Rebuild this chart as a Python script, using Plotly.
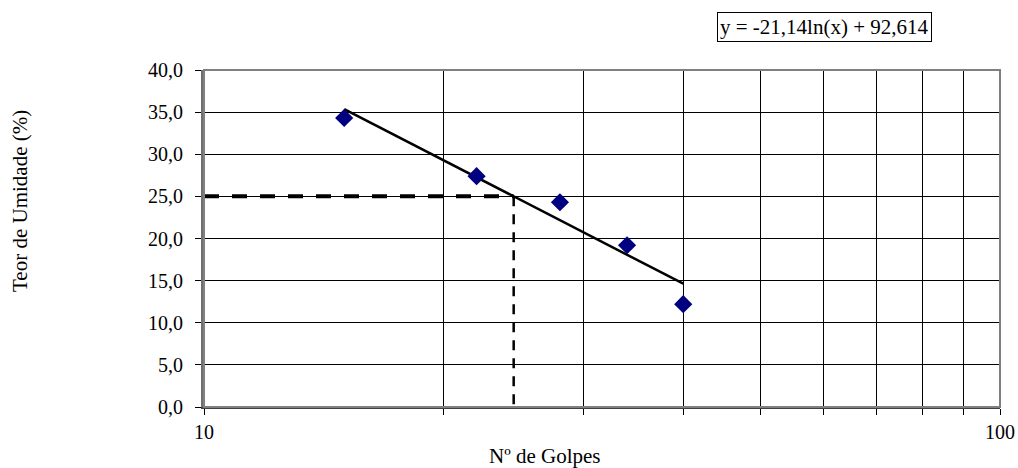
import numpy as np
import plotly.graph_objects as go

# Data
golpes = [15, 22, 28, 34, 40]
umidade = [34.3, 27.4, 24.3, 19.2, 12.2]

# Logarithmic trendline coefficients shown on the chart
coef_a = -21.14
coef_b = 92.614
limite_umidade = 25.0

y_tick_vals = [0, 5, 10, 15, 20, 25, 30, 35, 40]
y_tick_text = ["0,0", "5,0", "10,0", "15,0", "20,0", "25,0", "30,0", "35,0", "40,0"]
x_tick_vals = [10, 20, 30, 40, 50, 60, 70, 80, 90, 100]
x_tick_text = ["10", "", "", "", "", "", "", "", "", "100"]

font_family = "Liberation Serif"

W, H = 1018, 468
L, R, T, B = 204, 18, 70, 61
PW, PH = W - L - R, H - T - B

def px_x(x):
    return (x - L) / PW

def px_y(y):
    return (H - B - y) / PH

# trendline over the data range
xt = np.geomspace(min(golpes), max(golpes), 30)
yt = coef_a * np.log(xt) + coef_b

# golpes at 25% moisture
x25 = float(np.exp((coef_b - limite_umidade) / (-coef_a)))

fig = go.Figure()

fig.add_trace(go.Scatter(x=[10, x25], y=[limite_umidade, limite_umidade], mode="lines",
                         line=dict(color="black", width=4, dash="15px,13px"),
                         showlegend=False, hoverinfo="skip"))
fig.add_trace(go.Scatter(x=[x25, x25], y=[limite_umidade, 0], mode="lines",
                         line=dict(color="black", width=2.5, dash="10px,8px"),
                         showlegend=False, hoverinfo="skip"))
fig.add_trace(go.Scatter(x=xt, y=yt, mode="lines",
                         line=dict(color="black", width=2.5),
                         showlegend=False))
fig.add_trace(go.Scatter(x=golpes, y=umidade, mode="markers",
                         marker=dict(symbol="diamond", size=14, color="#000080"),
                         showlegend=False))

fig.update_layout(
    width=W, height=H,
    margin=dict(l=L, r=R, t=T, b=B),
    paper_bgcolor="white", plot_bgcolor="white",
    font=dict(family=font_family, size=20, color="black"),
    xaxis=dict(type="log", range=[1, 2], tickvals=x_tick_vals, ticktext=x_tick_text,
               showgrid=True, gridcolor="black", gridwidth=1,
               ticks="outside", ticklen=6, tickcolor="black", tickwidth=1,
               showline=True, linecolor="#404040", linewidth=2, mirror=False,
               zeroline=False, tickfont=dict(family=font_family, size=20),
               automargin=False),
    yaxis=dict(range=[0, 40], tickvals=y_tick_vals, ticktext=y_tick_text,
               showgrid=True, gridcolor="black", gridwidth=1,
               ticks="outside", ticklen=6, tickcolor="black", tickwidth=1,
               showline=True, linecolor="#707070", linewidth=3, mirror=False,
               zeroline=False, tickfont=dict(family=font_family, size=20),
               ticklabelstandoff=8, automargin=False),
    shapes=[dict(type="rect", xref="paper", yref="paper", x0=0, x1=1, y0=0, y1=1,
                 line=dict(color="#808080", width=2), layer="above")],
    annotations=[
        dict(text="y = -21,14ln(x) + 92,614", xref="paper", yref="paper",
             x=px_x(824), y=px_y(27),
             xanchor="center", yanchor="middle", showarrow=False,
             font=dict(family=font_family, size=21), bordercolor="black",
             borderwidth=1, borderpad=2, bgcolor="white"),
        dict(text="Nº de Golpes", xref="paper", yref="paper",
             x=px_x(545), y=px_y(456),
             xanchor="center", yanchor="middle", showarrow=False,
             font=dict(family=font_family, size=21)),
        dict(text="Teor de Umidade (%)", xref="paper", yref="paper",
             x=px_x(20), y=px_y(201), textangle=-90,
             xanchor="center", yanchor="middle", showarrow=False,
             font=dict(family=font_family, size=21)),
    ],
)

fig.write_html("out.html",
               config={"displayModeBar": False},
               post_script="document.body.style.margin='0';document.body.style.overflow='hidden';")
